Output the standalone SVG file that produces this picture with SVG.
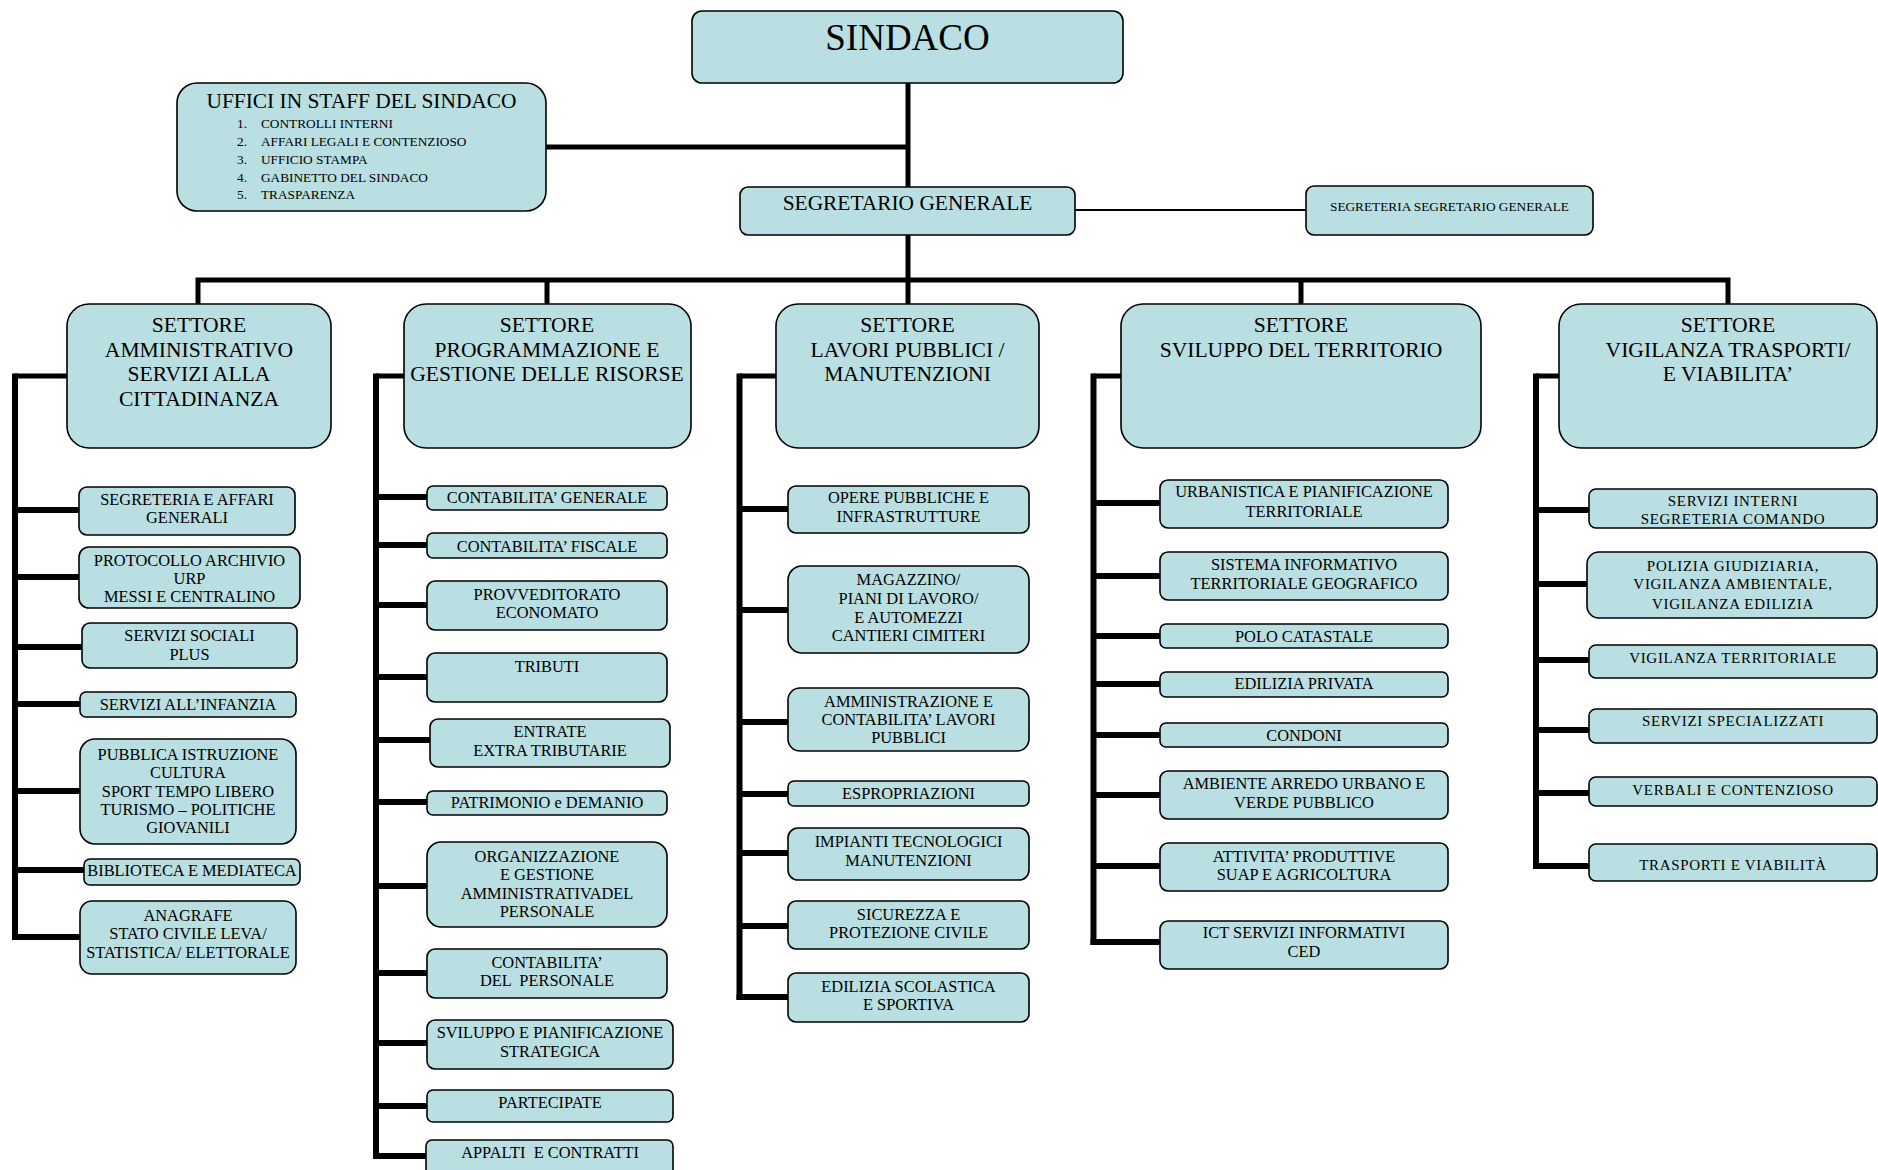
<svg xmlns="http://www.w3.org/2000/svg" width="1878" height="1170" viewBox="0 0 1878 1170">
<style>
.box{fill:#b9dfe2;stroke:#000;stroke-width:1.6}
.t{font-family:"Liberation Serif","Times New Roman",serif;text-anchor:middle;fill:#000}
.s16{font-size:16.4px}
.s13{font-size:13.3px}
.sett{font-size:21.6px}
.vig{font-size:15px;letter-spacing:0.7px}
.ln{stroke:#000;fill:none;stroke-width:5}
.br{stroke:#000;fill:none;stroke-width:6}
.thin{stroke:#000;fill:none;stroke-width:2}
.pre{white-space:pre}
</style>
<rect width="1878" height="1170" fill="#fff"/>
<g id="connectors">
<line class="ln" x1="908" y1="83" x2="908" y2="187"/>
<line class="ln" x1="546" y1="147" x2="908" y2="147"/>
<line class="ln" x1="908" y1="235" x2="908" y2="282"/>
<line class="thin" x1="1075" y1="210" x2="1306" y2="210"/>
<polyline class="ln" points="198,304 198,280 1728,280 1728,304"/>
<line class="ln" x1="547" y1="280" x2="547" y2="304"/>
<line class="ln" x1="908" y1="280" x2="908" y2="304"/>
<line class="ln" x1="1301" y1="280" x2="1301" y2="304"/>
<!-- column 1 -->
<polyline class="ln" points="67,376 15,376"/>
<line class="br" x1="15" y1="373.5" x2="15" y2="940"/>
<path class="br" d="M15,510H79M15,577H79M15,647H82M15,704H80M15,791H80M15,870H84M12,937H80"/>
<!-- column 2 -->
<polyline class="ln" points="404,376 376,376"/>
<line class="br" x1="376" y1="373.5" x2="376" y2="1159"/>
<path class="br" d="M376,497H427M376,545H427M376,605H427M376,677H427M376,740H430M376,802H427M376,886H427M376,973H427M376,1043H427M376,1106H427M373,1156H426"/>
<!-- column 3 -->
<polyline class="ln" points="776,376 739.5,376"/>
<line class="br" x1="739.5" y1="373.5" x2="739.5" y2="1000"/>
<path class="br" d="M739.5,509H788M739.5,610H788M739.5,722H788M739.5,794H788M739.5,853H788M739.5,926H788M736.5,997H788"/>
<!-- column 4 -->
<polyline class="ln" points="1121,376 1093.5,376"/>
<line class="br" x1="1093.5" y1="373.5" x2="1093.5" y2="945"/>
<path class="br" d="M1093.5,503H1160M1093.5,576H1160M1093.5,636H1160M1093.5,684H1160M1093.5,735H1160M1093.5,795H1160M1093.5,866H1160M1090.5,942H1160"/>
<!-- column 5 -->
<polyline class="ln" points="1559,376 1536,376"/>
<line class="br" x1="1536" y1="373.5" x2="1536" y2="869"/>
<path class="br" d="M1536,510H1589M1536,584H1587M1536,660H1589M1536,730H1589M1536,793H1589M1533,866H1589"/>
</g>

<g id="sindaco"><rect class="box" x="692" y="11" width="431" height="72" rx="10"/><text class="t" x="907.5" y="50" font-size="37">SINDACO</text></g>
<g id="uffici-staff"><rect class="box" x="177" y="83" width="369" height="128" rx="20"/>
<text class="t" x="361.5" y="108" font-size="21.4">UFFICI IN STAFF DEL SINDACO</text>
<g class="s13" font-family="Liberation Serif, Times New Roman, serif">
<text x="237" y="128">1.</text><text x="261" y="128">CONTROLLI INTERNI</text>
<text x="237" y="146">2.</text><text x="261" y="146">AFFARI LEGALI E CONTENZIOSO</text>
<text x="237" y="164">3.</text><text x="261" y="164">UFFICIO STAMPA</text>
<text x="237" y="182">4.</text><text x="261" y="182">GABINETTO DEL SINDACO</text>
<text x="237" y="199">5.</text><text x="261" y="199">TRASPARENZA</text>
</g></g>
<g id="segretario"><rect class="box" x="740" y="187" width="335" height="48" rx="8"/><text class="t" x="907.5" y="210" font-size="21.4">SEGRETARIO GENERALE</text></g>
<g id="segreteria-segretario"><rect class="box" x="1306" y="186" width="287" height="49" rx="8"/><text class="t s13" x="1449.5" y="211">SEGRETERIA SEGRETARIO GENERALE</text></g>

<g id="settore-amministrativo"><rect class="box" x="67" y="304" width="264" height="144" rx="22"/>
<text class="t sett" x="199"><tspan x="199" y="332">SETTORE</tspan><tspan x="199" y="356.5">AMMINISTRATIVO</tspan><tspan x="199" y="381">SERVIZI ALLA</tspan><tspan x="199" y="405.5">CITTADINANZA</tspan></text></g>
<g id="settore-programmazione"><rect class="box" x="404" y="304" width="287" height="144" rx="22"/>
<text class="t sett"><tspan x="547" y="332">SETTORE</tspan><tspan x="547" y="356.5">PROGRAMMAZIONE E</tspan><tspan x="547" y="381">GESTIONE DELLE RISORSE</tspan></text></g>
<g id="settore-lavori"><rect class="box" x="776" y="304" width="263" height="144" rx="22"/>
<text class="t sett"><tspan x="907.5" y="332">SETTORE</tspan><tspan x="907.5" y="356.5">LAVORI PUBBLICI /</tspan><tspan x="907.5" y="381">MANUTENZIONI</tspan></text></g>
<g id="settore-sviluppo"><rect class="box" x="1121" y="304" width="360" height="144" rx="22"/>
<text class="t sett"><tspan x="1301" y="332">SETTORE</tspan><tspan x="1301" y="356.5">SVILUPPO DEL TERRITORIO</tspan></text></g>
<g id="settore-vigilanza"><rect class="box" x="1559" y="304" width="318" height="144" rx="22"/>
<text class="t sett"><tspan x="1728" y="332">SETTORE</tspan><tspan x="1728" y="356.5">VIGILANZA TRASPORTI/</tspan><tspan x="1728" y="381">E VIABILITA’</tspan></text></g>

<!-- column 1 children -->
<g id="c1-segreteria"><rect class="box" x="79" y="487" width="216" height="48" rx="8"/><text class="t s16"><tspan x="187" y="505">SEGRETERIA E AFFARI</tspan><tspan x="187" y="523">GENERALI</tspan></text></g>
<g id="c1-protocollo"><rect class="box" x="79" y="547" width="221" height="61" rx="10"/><text class="t s16"><tspan x="189.5" y="566">PROTOCOLLO ARCHIVIO</tspan><tspan x="189.5" y="584">URP</tspan><tspan x="189.5" y="602">MESSI E CENTRALINO</tspan></text></g>
<g id="c1-sociali"><rect class="box" x="82" y="623" width="215" height="45" rx="8"/><text class="t s16"><tspan x="189.5" y="641">SERVIZI SOCIALI</tspan><tspan x="189.5" y="660">PLUS</tspan></text></g>
<g id="c1-infanzia"><rect class="box" x="80" y="692" width="216" height="25" rx="6"/><text class="t s16" x="188" y="710">SERVIZI ALL’INFANZIA</text></g>
<g id="c1-istruzione"><rect class="box" x="80" y="739" width="216" height="105" rx="15"/><text class="t s16"><tspan x="188" y="760">PUBBLICA ISTRUZIONE</tspan><tspan x="188" y="778">CULTURA</tspan><tspan x="188" y="797">SPORT TEMPO LIBERO</tspan><tspan x="188" y="815">TURISMO – POLITICHE</tspan><tspan x="188" y="833">GIOVANILI</tspan></text></g>
<g id="c1-biblioteca"><rect class="box" x="84" y="859" width="216" height="26" rx="6"/><text class="t s16" x="192" y="876">BIBLIOTECA E MEDIATECA</text></g>
<g id="c1-anagrafe"><rect class="box" x="80" y="901" width="216" height="73" rx="12"/><text class="t s16"><tspan x="188" y="921">ANAGRAFE</tspan><tspan x="188" y="939">STATO CIVILE LEVA/</tspan><tspan x="188" y="958">STATISTICA/ ELETTORALE</tspan></text></g>

<!-- column 2 children -->
<g id="c2-cont-generale"><rect class="box" x="427" y="486" width="240" height="24" rx="6"/><text class="t s16" x="547" y="503">CONTABILITA’ GENERALE</text></g>
<g id="c2-cont-fiscale"><rect class="box" x="427" y="533" width="240" height="25" rx="6"/><text class="t s16" x="547" y="552">CONTABILITA’ FISCALE</text></g>
<g id="c2-provveditorato"><rect class="box" x="427" y="581" width="240" height="49" rx="8"/><text class="t s16"><tspan x="547" y="600">PROVVEDITORATO</tspan><tspan x="547" y="618">ECONOMATO</tspan></text></g>
<g id="c2-tributi"><rect class="box" x="427" y="653" width="240" height="49" rx="8"/><text class="t s16" x="547" y="672">TRIBUTI</text></g>
<g id="c2-entrate"><rect class="box" x="430" y="719" width="240" height="48" rx="8"/><text class="t s16"><tspan x="550" y="737">ENTRATE</tspan><tspan x="550" y="756">EXTRA TRIBUTARIE</tspan></text></g>
<g id="c2-patrimonio"><rect class="box" x="427" y="791" width="240" height="24" rx="6"/><text class="t s16" x="547" y="808">PATRIMONIO e DEMANIO</text></g>
<g id="c2-organizzazione"><rect class="box" x="427" y="842" width="240" height="85" rx="14"/><text class="t s16"><tspan x="547" y="862">ORGANIZZAZIONE</tspan><tspan x="547" y="880">E GESTIONE</tspan><tspan x="547" y="899">AMMINISTRATIVADEL</tspan><tspan x="547" y="917">PERSONALE</tspan></text></g>
<g id="c2-cont-personale"><rect class="box" x="427" y="949" width="240" height="49" rx="8"/><text class="t s16 pre"><tspan x="547" y="968">CONTABILITA’</tspan><tspan x="547" y="986">DEL  PERSONALE</tspan></text></g>
<g id="c2-sviluppo"><rect class="box" x="427" y="1020" width="246" height="49" rx="8"/><text class="t s16"><tspan x="550" y="1038">SVILUPPO E PIANIFICAZIONE</tspan><tspan x="550" y="1057">STRATEGICA</tspan></text></g>
<g id="c2-partecipate"><rect class="box" x="427" y="1090" width="246" height="32" rx="6"/><text class="t s16" x="550" y="1108">PARTECIPATE</text></g>
<g id="c2-appalti"><rect class="box" x="426" y="1140" width="247" height="40" rx="6"/><text class="t s16 pre" x="550" y="1158">APPALTI  E CONTRATTI</text></g>

<!-- column 3 children -->
<g id="c3-opere"><rect class="box" x="788" y="486" width="241" height="47" rx="8"/><text class="t s16"><tspan x="908.5" y="503">OPERE PUBBLICHE E</tspan><tspan x="908.5" y="522">INFRASTRUTTURE</tspan></text></g>
<g id="c3-magazzino"><rect class="box" x="788" y="566" width="241" height="87" rx="14"/><text class="t s16"><tspan x="908.5" y="585">MAGAZZINO/</tspan><tspan x="908.5" y="604">PIANI DI LAVORO/</tspan><tspan x="908.5" y="623">E AUTOMEZZI</tspan><tspan x="908.5" y="641">CANTIERI CIMITERI</tspan></text></g>
<g id="c3-amministrazione"><rect class="box" x="788" y="688" width="241" height="63" rx="12"/><text class="t s16"><tspan x="908.5" y="707">AMMINISTRAZIONE E</tspan><tspan x="908.5" y="725">CONTABILITA’ LAVORI</tspan><tspan x="908.5" y="743">PUBBLICI</tspan></text></g>
<g id="c3-espropriazioni"><rect class="box" x="788" y="781" width="241" height="25" rx="6"/><text class="t s16" x="908.5" y="799">ESPROPRIAZIONI</text></g>
<g id="c3-impianti"><rect class="box" x="788" y="828" width="241" height="52" rx="10"/><text class="t s16"><tspan x="908.5" y="847">IMPIANTI TECNOLOGICI</tspan><tspan x="908.5" y="866">MANUTENZIONI</tspan></text></g>
<g id="c3-sicurezza"><rect class="box" x="788" y="901" width="241" height="48" rx="8"/><text class="t s16"><tspan x="908.5" y="920">SICUREZZA E</tspan><tspan x="908.5" y="938">PROTEZIONE CIVILE</tspan></text></g>
<g id="c3-edilizia-scolastica"><rect class="box" x="788" y="973" width="241" height="49" rx="8"/><text class="t s16"><tspan x="908.5" y="992">EDILIZIA SCOLASTICA</tspan><tspan x="908.5" y="1010">E SPORTIVA</tspan></text></g>

<!-- column 4 children -->
<g id="c4-urbanistica"><rect class="box" x="1160" y="480" width="288" height="48" rx="8"/><text class="t s16"><tspan x="1304" y="497">URBANISTICA E PIANIFICAZIONE</tspan><tspan x="1304" y="517">TERRITORIALE</tspan></text></g>
<g id="c4-sistema"><rect class="box" x="1160" y="552" width="288" height="48" rx="8"/><text class="t s16"><tspan x="1304" y="570">SISTEMA INFORMATIVO</tspan><tspan x="1304" y="589">TERRITORIALE GEOGRAFICO</tspan></text></g>
<g id="c4-polo"><rect class="box" x="1160" y="624" width="288" height="24" rx="6"/><text class="t s16" x="1304" y="642">POLO CATASTALE</text></g>
<g id="c4-edilizia"><rect class="box" x="1160" y="672" width="288" height="25" rx="6"/><text class="t s16" x="1304" y="689">EDILIZIA PRIVATA</text></g>
<g id="c4-condoni"><rect class="box" x="1160" y="723" width="288" height="24" rx="6"/><text class="t s16" x="1304" y="741">CONDONI</text></g>
<g id="c4-ambiente"><rect class="box" x="1160" y="771" width="288" height="48" rx="8"/><text class="t s16"><tspan x="1304" y="789">AMBIENTE ARREDO URBANO E</tspan><tspan x="1304" y="808">VERDE PUBBLICO</tspan></text></g>
<g id="c4-attivita"><rect class="box" x="1160" y="843" width="288" height="48" rx="8"/><text class="t s16"><tspan x="1304" y="862">ATTIVITA’ PRODUTTIVE</tspan><tspan x="1304" y="880">SUAP E AGRICOLTURA</tspan></text></g>
<g id="c4-ict"><rect class="box" x="1160" y="921" width="288" height="48" rx="8"/><text class="t s16"><tspan x="1304" y="938">ICT SERVIZI INFORMATIVI</tspan><tspan x="1304" y="957">CED</tspan></text></g>

<!-- column 5 children -->
<g id="c5-servizi-interni"><rect class="box" x="1589" y="489" width="288" height="39" rx="7"/><text class="t vig"><tspan x="1733" y="506">SERVIZI INTERNI</tspan><tspan x="1733" y="524">SEGRETERIA COMANDO</tspan></text></g>
<g id="c5-polizia"><rect class="box" x="1587" y="552" width="290" height="66" rx="12"/><text class="t vig"><tspan x="1733" y="571">POLIZIA GIUDIZIARIA,</tspan><tspan x="1733" y="589">VIGILANZA AMBIENTALE,</tspan><tspan x="1733" y="609">VIGILANZA EDILIZIA</tspan></text></g>
<g id="c5-territoriale"><rect class="box" x="1589" y="645" width="288" height="33" rx="7"/><text class="t vig" x="1733" y="663">VIGILANZA TERRITORIALE</text></g>
<g id="c5-specializzati"><rect class="box" x="1589" y="709" width="288" height="34" rx="7"/><text class="t vig" x="1733" y="726">SERVIZI SPECIALIZZATI</text></g>
<g id="c5-verbali"><rect class="box" x="1589" y="777" width="288" height="29" rx="7"/><text class="t vig" x="1733" y="795">VERBALI E CONTENZIOSO</text></g>
<g id="c5-trasporti"><rect class="box" x="1589" y="844" width="288" height="37" rx="7"/><text class="t vig" x="1733" y="870">TRASPORTI E VIABILITÀ</text></g>
</svg>
